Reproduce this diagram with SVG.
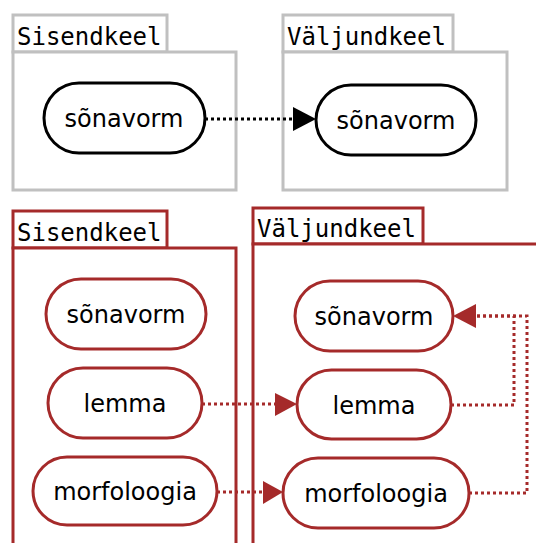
<svg xmlns="http://www.w3.org/2000/svg" width="536" height="543" viewBox="0 0 536 543">
<defs>
<style>
.gray{fill:#fff;stroke:#c0c0c0;stroke-width:3}
.red{fill:#fff;stroke:#a52a2a;stroke-width:3}
.nb{fill:#fff;stroke:#000;stroke-width:3}
.nr{fill:#fff;stroke:#a52a2a;stroke-width:3}
.tab{font-family:"DejaVu Sans Mono","Liberation Mono",monospace;font-size:24px;fill:#000}
.lbl{font-family:"DejaVu Sans","Liberation Sans",sans-serif;font-size:24px;fill:#000;text-anchor:middle}
.cb{fill:none;stroke:#000;stroke-width:3;stroke-dasharray:3,3}
.cr{fill:none;stroke:#a52a2a;stroke-width:3;stroke-dasharray:3,3}
</style>
<marker id="ab" viewBox="0 0 10 10" refX="10" refY="5" markerWidth="8" markerHeight="8" markerUnits="userSpaceOnUse" orient="auto" overflow="visible">
<path d="M0,0 L10,5 L0,10 z" fill="#000"/>
</marker>
</defs>
<g id="top-sisend">
<rect class="gray" x="13" y="15" width="154" height="37"/>
<rect class="gray" x="13" y="52" width="223" height="138"/>
<text class="tab" x="17" y="45">Sisendkeel</text>
</g>
<g id="top-valjund">
<rect class="gray" x="283" y="15" width="170" height="37"/>
<rect class="gray" x="283" y="52" width="224" height="138"/>
<text class="tab" x="287" y="45">Väljundkeel</text>
</g>
<g id="bot-sisend">
<rect class="red" x="13" y="211" width="154" height="37"/>
<rect class="red" x="13" y="248" width="223" height="310"/>
<text class="tab" x="17" y="241">Sisendkeel</text>
</g>
<g id="bot-valjund">
<rect class="red" x="253" y="208" width="170" height="36"/>
<rect class="red" x="253" y="244" width="300" height="314"/>
<text class="tab" x="257" y="237">Väljundkeel</text>
</g>
<g id="n1"><rect class="nb" x="44" y="83" width="161" height="70" rx="35"/><text class="lbl" x="124" y="127">sõnavorm</text></g>
<g id="n2"><rect class="nb" x="316" y="85" width="160" height="70" rx="35"/><text class="lbl" x="396" y="129">sõnavorm</text></g>
<g id="n3"><rect class="nr" x="46" y="279" width="160" height="70" rx="35"/><text class="lbl" x="126" y="323">sõnavorm</text></g>
<g id="n4"><rect class="nr" x="48" y="368" width="154" height="70" rx="35"/><text class="lbl" x="125" y="412">lemma</text></g>
<g id="n5"><rect class="nr" x="33" y="457" width="184" height="68" rx="34"/><text class="lbl" x="125" y="500">morfoloogia</text></g>
<g id="n6"><rect class="nr" x="295" y="281" width="158" height="70" rx="35"/><text class="lbl" x="374" y="325">sõnavorm</text></g>
<g id="n7"><rect class="nr" x="297" y="370" width="154" height="69" rx="34.5"/><text class="lbl" x="374" y="414">lemma</text></g>
<g id="n8"><rect class="nr" x="283" y="458" width="186" height="70" rx="35"/><text class="lbl" x="376" y="502">morfoloogia</text></g>
<g id="connectors">
<path class="cb" d="M205,119 L294,119"/>
<path d="M293,107 L316,119 L293,131 z" fill="#000"/>
<path class="cr" d="M202,404 L276,404"/>
<path d="M275,393 L297,404 L275,416 z" fill="#a52a2a"/>
<path class="cr" d="M217,492 L264,492"/>
<path d="M263,481 L283,492 L263,504 z" fill="#a52a2a"/>
<path class="cr" d="M451,405 L514,405 L514,316 L476,316"/>
<path class="cr" d="M469,493 L527,493 L527,316 L476,316"/>
<path d="M476,304 L453,316 L476,328 z" fill="#a52a2a"/>
</g>
</svg>
